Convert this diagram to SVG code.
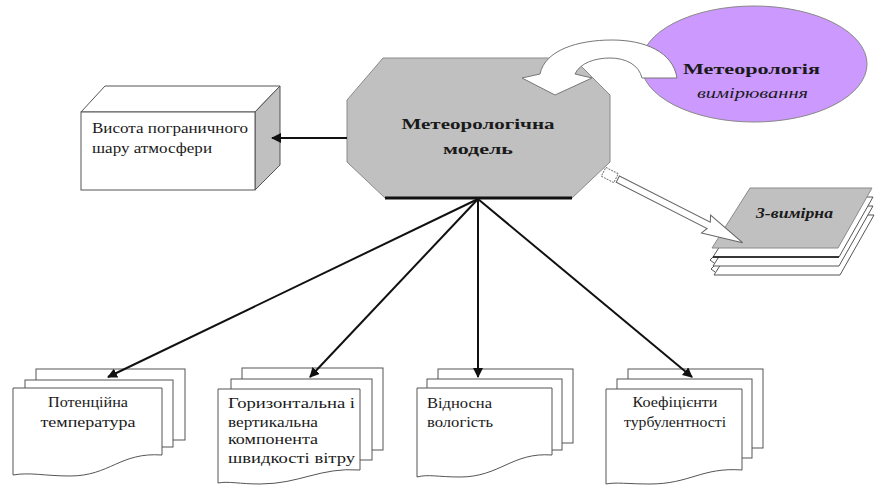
<svg xmlns="http://www.w3.org/2000/svg" width="876" height="485" viewBox="0 0 876 485">
<style>
  .t { font-family: "Liberation Serif", "DejaVu Serif", serif; fill: #1a1a1a; font-size: 14px; }
  .b { font-weight: bold; }
  .i { font-style: italic; }
  .page { fill: #ffffff; stroke: #555555; stroke-width: 1; }
  .conn { stroke: #111111; stroke-width: 2; fill: none; marker-end: url(#ah); }
</style>
<defs>
  <marker id="ah" viewBox="0 0 10 10" refX="9" refY="5" markerWidth="5" markerHeight="5" orient="auto" markerUnits="strokeWidth">
    <path d="M0,0 L10,5 L0,10 Z" fill="#111111"/>
  </marker>
</defs>
<rect width="876" height="485" fill="#ffffff"/>

<!-- Ellipse: Метеорологія вимірювання -->
<g id="node-measure">
  <ellipse cx="754" cy="64" rx="113" ry="58" fill="#cc99ff" stroke="#888888" stroke-width="1"/>
  <text class="t b" x="683" y="74" font-size="18" textLength="137" lengthAdjust="spacingAndGlyphs">Метеорологія</text>
  <text class="t i" x="697" y="98" font-size="15" textLength="111" lengthAdjust="spacingAndGlyphs">вимірювання</text>
</g>

<!-- Octagon: Метеорологічна модель -->
<g id="node-model">
  <polygon points="383,58 573,58 610,95 610,162 572,198 385,198 347,162 347,100" fill="#c0c0c0" stroke="#8a8a8a" stroke-width="1"/>
  <line x1="385" y1="198" x2="572" y2="198" stroke="#111111" stroke-width="3"/>
  <text class="t b" x="478" y="129" font-size="20" text-anchor="middle" textLength="153" lengthAdjust="spacingAndGlyphs">Метеорологічна</text>
  <text class="t b" x="478" y="154" font-size="17" text-anchor="middle" textLength="70" lengthAdjust="spacingAndGlyphs">модель</text>
</g>

<!-- 3D box: Висота пограничного шару атмосфери -->
<g id="node-height">
  <polygon points="81,112 105,86 280,86 255,112" fill="#ffffff" stroke="#555555"/>
  <polygon points="255,112 280,86 280,165 255,190" fill="#c0c0c0" stroke="#555555"/>
  <rect x="81" y="112" width="174" height="78" fill="#ffffff" stroke="#555555"/>
  <text class="t" x="92" y="133" font-size="15" textLength="156" lengthAdjust="spacingAndGlyphs">Висота пограничного</text>
  <text class="t" x="92" y="153" font-size="15" textLength="120" lengthAdjust="spacingAndGlyphs">шару атмосфери</text>
</g>

<!-- Stack: 3-вимірна -->
<g id="node-3d">
  <polygon points="752,215 874,215 840,275 714,275" class="page"/>
  <polygon points="751,206 873,206 839,266 713,266" class="page"/>
  <polygon points="751,197 873,197 839,257 713,257" class="page"/>
  <line x1="713" y1="257" x2="839" y2="257" stroke="#111111" stroke-width="1.5"/>
  <polygon points="750,188 872,188 838,248 712,248" fill="#c0c0c0" stroke="#8a8a8a"/>
  <path d="M713,257 l-3,3 l4,3 M714,266 l-3,3 l4,3" fill="none" stroke="#555555"/>
  <text class="t b i" x="756" y="218" font-size="15" textLength="77" lengthAdjust="spacingAndGlyphs">3-вимірна</text>
</g>

<!-- Document stacks -->
<g id="node-temp">
  <rect x="36" y="369" width="149" height="71" class="page"/>
  <rect x="25" y="380" width="148" height="67" class="page"/>
  <path d="M13,388 H162 V455 C120,452 110,476 70,476 C45,476 30,472 13,475 Z" class="page"/>
  <text class="t" x="88" y="407" font-size="15" text-anchor="middle" textLength="80" lengthAdjust="spacingAndGlyphs">Потенційна</text>
  <text class="t" x="88" y="427" font-size="15" text-anchor="middle" textLength="95" lengthAdjust="spacingAndGlyphs">температура</text>
</g>

<g id="node-wind">
  <rect x="242" y="368" width="141" height="82" class="page"/>
  <rect x="231" y="379" width="141" height="81" class="page"/>
  <path d="M218,389 H360 V470 C320,467 300,484 260,484 C240,484 228,481 218,483 Z" class="page"/>
  <text class="t" x="228" y="408" font-size="15" textLength="127" lengthAdjust="spacingAndGlyphs">Горизонтальна і</text>
  <text class="t" x="228" y="427" font-size="15" textLength="90" lengthAdjust="spacingAndGlyphs">вертикальна</text>
  <text class="t" x="228" y="444" font-size="15" textLength="90" lengthAdjust="spacingAndGlyphs">компонента</text>
  <text class="t" x="228" y="463" font-size="15" textLength="127" lengthAdjust="spacingAndGlyphs">швидкості вітру</text>
</g>

<g id="node-humidity">
  <rect x="438" y="369" width="135" height="74" class="page"/>
  <rect x="427" y="379" width="135" height="71" class="page"/>
  <path d="M417,388 H552 V455 C512,452 500,477 460,477 C438,477 428,474 417,477 Z" class="page"/>
  <text class="t" x="427" y="408" font-size="16" textLength="65" lengthAdjust="spacingAndGlyphs">Відносна</text>
  <text class="t" x="427" y="427" font-size="16" textLength="66" lengthAdjust="spacingAndGlyphs">вологість</text>
</g>

<g id="node-turb">
  <rect x="628" y="369" width="135" height="79" class="page"/>
  <rect x="617" y="379" width="135" height="79" class="page"/>
  <path d="M606,389 H742 V470 C702,467 690,484 650,484 C628,484 616,482 606,484 Z" class="page"/>
  <text class="t" x="675" y="407" font-size="15" text-anchor="middle" textLength="85" lengthAdjust="spacingAndGlyphs">Коефіцієнти</text>
  <text class="t" x="675" y="427" font-size="15" text-anchor="middle" textLength="102" lengthAdjust="spacingAndGlyphs">турбулентності</text>
</g>

<!-- Connectors -->
<g id="connectors">
  <line class="conn" x1="347" y1="138" x2="272" y2="138"/>
  <line class="conn" x1="478" y1="199" x2="108" y2="377"/>
  <line class="conn" x1="478" y1="199" x2="310" y2="377"/>
  <line class="conn" x1="478" y1="199" x2="478" y2="377"/>
  <line class="conn" x1="478" y1="199" x2="692" y2="377"/>
  <!-- curved block arrow from ellipse to model -->
  <path d="M677,78 C673,52 645,40 612,40 C578,40 545,50 540,74 L522,78 L555,95 L592,78 L575,74 C580,63 595,58 610,58 C626,58 639,65 642,78 Z" fill="#ffffff" stroke="#777777" stroke-width="1"/>
  <!-- pencil-style arrow from model to 3D stack -->
  <g transform="translate(600,170) rotate(27)">
    <rect x="4" y="-5" width="14" height="10" fill="#ffffff" stroke="#777777" stroke-dasharray="2,1"/>
    <path d="M20,-3.5 L122,-3.5 L119,-10 L160,0 L119,10 L122,3.5 L20,3.5 Z" fill="#ffffff" stroke="#666666" stroke-width="1"/>
  </g>
</g>
</svg>
